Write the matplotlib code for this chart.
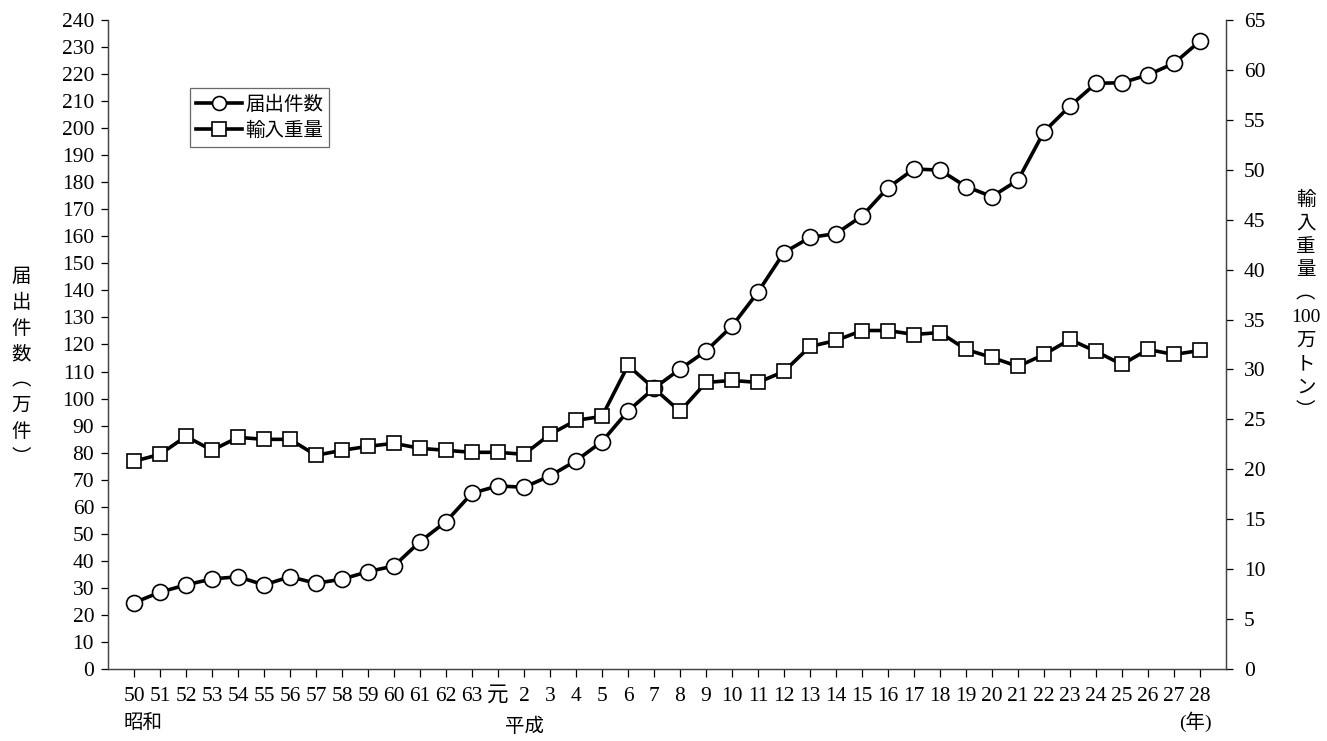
import matplotlib as mpl
mpl.use('Agg')
import matplotlib.pyplot as plt

plt.rcParams['font.family'] = ['Liberation Serif', 'Noto Sans CJK JP']

# 年 (昭和50 ~ 平成28)
nen = ['50', '51', '52', '53', '54', '55', '56', '57', '58', '59', '60', '61', '62', '63',
       '元', '2', '3', '4', '5', '6', '7', '8', '9', '10', '11', '12', '13', '14', '15',
       '16', '17', '18', '19', '20', '21', '22', '23', '24', '25', '26', '27', '28']

# 届出件数 (万件)
todokede = [24.5, 28.4, 31.1, 33.3, 34.1, 31.1, 34.1, 31.7, 33.2, 36.0, 38.1, 47.1, 54.5, 65.0,
            67.7, 67.2, 71.4, 77.0, 84.1, 95.4, 103.8, 110.9, 117.6, 126.8, 139.4, 154.0, 159.6,
            161.0, 167.5, 178.0, 184.9, 184.5, 178.4, 174.7, 180.8, 198.7, 208.2, 216.6, 216.8,
            219.7, 224.0, 232.2]

# 輸入重量 (100万トン)
juryo = [20.8, 21.5, 23.3, 21.9, 23.2, 23.0, 23.0, 21.4, 21.9, 22.3, 22.6, 22.1, 21.9, 21.7,
         21.7, 21.5, 23.5, 24.9, 25.3, 30.4, 28.1, 25.8, 28.7, 28.9, 28.7, 29.8, 32.3, 32.9,
         33.9, 33.9, 33.5, 33.7, 32.0, 31.2, 30.3, 31.5, 33.0, 31.8, 30.5, 32.0, 31.5, 31.9]

x = list(range(len(nen)))

fig = plt.figure(figsize=(13.27, 7.41), dpi=100)
ax1 = fig.add_axes([0.0814, 0.0972, 0.8425, 0.8758])
ax2 = ax1.twinx()

l1, = ax1.plot(x, todokede, '-o', color='black', lw=2.6, ms=11.5,
               mfc='white', mec='black', mew=1.2, label='届出件数')
l2, = ax2.plot(x, juryo, '-s', color='black', lw=2.6, ms=10.5,
               mfc='white', mec='black', mew=1.2, label='輸入重量')

ax1.set_xlim(-1, 42)
ax1.set_ylim(0, 240)
ax1.set_yticks(range(0, 241, 10))
ax2.set_ylim(0, 65)
ax2.set_yticks(range(0, 66, 5))

ax1.set_xticks(x)
ax1.set_xticklabels(nen)

for a in (ax1, ax2):
    a.spines['top'].set_visible(False)
    for s in a.spines.values():
        s.set_linewidth(0.9)
        s.set_color('#444444')

ax1.tick_params(axis='x', direction='out', length=6, width=0.9, pad=7, labelsize=15.5)
ax1.tick_params(axis='y', direction='out', length=5, width=0.9, pad=5, labelsize=15.5)
ax2.tick_params(axis='y', direction='out', length=5, width=0.9, pad=8, labelsize=15.5)

# 軸ラベル (縦書き)
fig.text(0.016, 0.505, '届\n出\n件\n数\n︵\n万\n件\n︶', ha='center', va='center',
         fontsize=14, linespacing=1.3, family=['Noto Sans CJK JP', 'Liberation Serif'])
fig.text(0.984, 0.588, '輸\n入\n重\n量\n︵\n100\n万\nト\nン\n︶', ha='center', va='center',
         fontsize=14, linespacing=1.5, family=['Liberation Serif', 'Noto Sans CJK JP'])

fig.text(143 / 1327, 1 - 723 / 741, '昭和', ha='center', va='center', fontsize=14)
fig.text(525 / 1327, 1 - 727 / 741, '平成', ha='center', va='center', fontsize=14)
fig.text(1195 / 1327, 1 - 722 / 741, '(年)', ha='center', va='center', fontsize=14)

leg = ax2.legend(handles=[l1, l2], loc='upper left', bbox_to_anchor=(0.0733, 0.895),
                 borderaxespad=0, fancybox=False, edgecolor='#444444',
                 handlelength=2.4, handletextpad=0.15, borderpad=0.3, labelspacing=0.25,
                 prop={'family': ['Noto Sans CJK JP', 'Liberation Serif'], 'size': 14})
leg.get_frame().set_linewidth(0.9)
for h in leg.legend_handles:
    h.set_markersize(10)

fig.savefig('out.png', dpi=100)
